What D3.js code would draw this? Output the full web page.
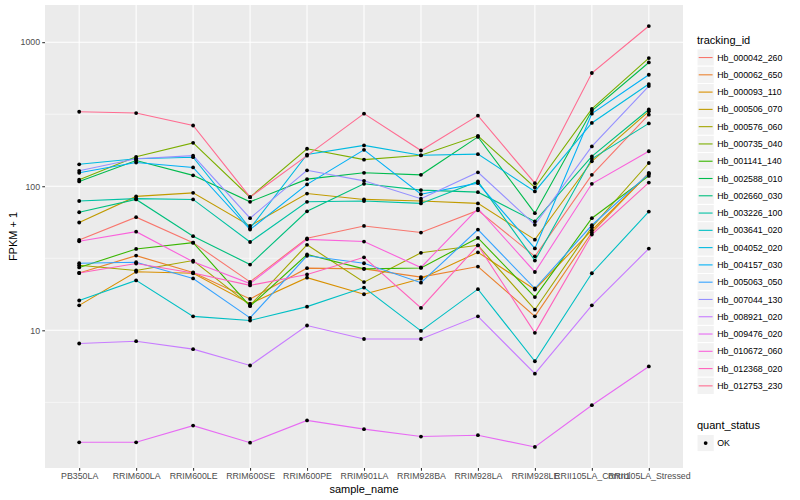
<!DOCTYPE html>
<html><head><meta charset="utf-8">
<script src="https://cdn.jsdelivr.net/npm/d3@7"></script>
<style>body{margin:0;background:#fff}svg{display:block}text{font-family:"Liberation Sans",Arial,Helvetica,sans-serif}</style>
</head><body><svg id="c" width="800" height="500"></svg>
<script>
const categories = ["PB350LA","RRIM600LA","RRIM600LE","RRIM600SE","RRIM600PE","RRIM901LA","RRIM928BA","RRIM928LA","RRIM928LE","RRII105LA_Control","RRII105LA_Stressed"];
const trackingIds = ["Hb_000042_260","Hb_000062_650","Hb_000093_110","Hb_000506_070","Hb_000576_060","Hb_000735_040","Hb_001141_140","Hb_002588_010","Hb_002660_030","Hb_003226_100","Hb_003641_020","Hb_004052_020","Hb_004157_030","Hb_005063_050","Hb_007044_130","Hb_008921_020","Hb_009476_020","Hb_010672_060","Hb_012368_020","Hb_012753_230"];
const seriesColors = ["#F8766D","#EA8331","#D89000","#C09B00","#A3A500","#7CAE00","#39B600","#00BB4E","#00BF7D","#00C1A3","#00BFC4","#00BAE0","#00B0F6","#35A2FF","#9590FF","#C77CFF","#E76BF3","#FA62DB","#FF62BC","#FF6C91"];
const yTicks = [10, 100, 1000];
const quantStatus = ["OK"];

// FPKM + 1 per sample, in category order
const hb000042_260 = [42.4, 61, 40.6, 21.7, 43.5, 53, 47.7, 68, 32.6, 120, 314];
const hb000062_650 = [25.0, 33.0, 25.2, 16.5, 27.0, 26.7, 23.4, 27.7, 12.5, 47.7, 124];
const hb000093_110 = [14.9, 25.5, 24.9, 15.3, 23.2, 17.8, 22.8, 34.8, 19.2, 49.5, 122];
const hb000506_070 = [56, 85, 90, 53, 89, 81, 79, 76, 42.6, 149, 331];
const hb000576_060 = [28.3, 26.0, 30.5, 14.9, 39.2, 21.6, 34.5, 38.9, 13.9, 52, 145];
const hb000735_040 = [111, 160, 200, 84, 182, 153, 164, 224, 98, 344, 776];
const hb001141_140 = [27.3, 36.7, 40.6, 14.7, 33.6, 26.7, 27.1, 43.8, 17.0, 60, 118];
const hb002588_010 = [108, 151, 119, 78, 112, 124, 120, 220, 65, 334, 723];
const hb002660_030 = [66, 81, 45, 28.6, 67, 104, 94, 91, 57, 161, 341];
const hb003226_100 = [79, 82, 81, 41, 78, 79, 76, 108, 30.5, 155, 273];
const hb003641_020 = [16.1, 22.2, 12.5, 11.7, 14.6, 19.8, 9.9, 19.3, 6.1, 24.9, 66.7];
const hb004052_020 = [142, 155, 159, 51, 166, 192, 164, 167, 92, 275, 512];
const hb004157_030 = [124, 146, 135, 50, 103, 179, 88, 105, 37, 319, 594];
const hb005063_050 = [29.2, 29.7, 22.9, 12.2, 32.9, 29.2, 21.4, 50, 19.5, 53.6, 122];
const hb007044_130 = [128, 155, 163, 60, 129, 109, 82, 125, 54, 189, 496];
const hb008921_020 = [8.1, 8.4, 7.4, 5.7, 10.8, 8.7, 8.7, 12.5, 5.0, 14.9, 36.9];
const hb009476_020 = [1.67, 1.67, 2.18, 1.66, 2.37, 2.06, 1.83, 1.87, 1.55, 3.02, 5.61];
const hb010672_060 = [41.5, 48.4, 29.9, 21.1, 42.8, 41.3, 27.3, 70, 25.4, 104, 175];
const hb012368_020 = [25.0, 29.1, 25.0, 20.5, 24.4, 32.1, 14.3, 38.9, 9.6, 46.2, 106];
const hb012753_230 = [329, 322, 264, 84, 163, 319, 177, 309, 105, 611, 1294];

const seriesValues = [hb000042_260, hb000062_650, hb000093_110, hb000506_070, hb000576_060, hb000735_040, hb001141_140, hb002588_010, hb002660_030, hb003226_100, hb003641_020, hb004052_020, hb004157_030, hb005063_050, hb007044_130, hb008921_020, hb009476_020, hb010672_060, hb012368_020, hb012753_230];

const series = trackingIds.map((id, i) => ({id, color: seriesColors[i], values: seriesValues[i].map((v, j) => ({cat: categories[j], v}))}));

const svg = d3.select("#c");
const P = {l: 45, r: 683, t: 5, b: 468};

const x = d3.scalePoint().domain(categories).range([P.l, P.r]).padding(0.6);
const all = seriesValues.flat();
const lmin = Math.log10(d3.min(all)), lmax = Math.log10(d3.max(all));
const ex = (lmax - lmin) * 0.05;
const y = d3.scaleLog().domain([Math.pow(10, lmin - ex), Math.pow(10, lmax + ex)]).range([P.b, P.t]);

// panel
svg.append("rect").attr("x", P.l).attr("y", P.t).attr("width", P.r - P.l).attr("height", P.b - P.t).attr("fill", "#EBEBEB");
const g = svg.append("g");
const minor = [Math.pow(10, 0.5), Math.pow(10, 1.5), Math.pow(10, 2.5)].filter(v => v > y.domain()[0] && v < y.domain()[1]);
g.selectAll(".mn").data(minor).join("line").attr("x1", P.l).attr("x2", P.r).attr("y1", d => y(d)).attr("y2", d => y(d)).attr("stroke", "#fff").attr("stroke-width", 0.55);
g.selectAll(".mj").data(yTicks).join("line").attr("x1", P.l).attr("x2", P.r).attr("y1", d => y(d)).attr("y2", d => y(d)).attr("stroke", "#fff").attr("stroke-width", 1.07);
g.selectAll(".vx").data(categories).join("line").attr("x1", d => x(d)).attr("x2", d => x(d)).attr("y1", P.t).attr("y2", P.b).attr("stroke", "#fff").attr("stroke-width", 1.07);

// lines
const line = d3.line().x(d => x(d.cat)).y(d => y(d.v));
svg.append("g").selectAll("path").data(series).join("path").attr("d", d => line(d.values)).attr("fill", "none").attr("stroke", d => d.color).attr("stroke-width", 1.1);
// points
svg.append("g").selectAll("circle").data(series.flatMap(s => s.values)).join("circle").attr("cx", d => x(d.cat)).attr("cy", d => y(d.v)).attr("r", 1.9).attr("fill", "#000");

// axes
const ya = svg.append("g").attr("transform", `translate(${P.l},0)`).call(d3.axisLeft(y).tickValues(yTicks).tickFormat(d3.format("d")).tickSize(2.75).tickPadding(2.2));
const xa = svg.append("g").attr("transform", `translate(0,${P.b})`).call(d3.axisBottom(x).tickSize(2.75).tickPadding(2.2));
[ya, xa].forEach(a => {
  a.select(".domain").remove();
  a.selectAll(".tick line").attr("stroke", "#333333").attr("stroke-width", 1.07);
  a.selectAll(".tick text").attr("fill", "#4D4D4D").style("font-size", "8.8px").style("font-family", '"Liberation Sans",Arial,sans-serif');
});

svg.append("text").attr("x", (P.l + P.r) / 2).attr("y", 493).attr("text-anchor", "middle").style("font-size", "11px").attr("fill", "#000").text("sample_name");
svg.append("text").attr("transform", `translate(17,${(P.t + P.b) / 2}) rotate(-90)`).attr("text-anchor", "middle").style("font-size", "11px").attr("fill", "#000").text("FPKM + 1");

// legend
const L = svg.append("g");
const kx = 697, ks = 17.28, ky0 = 48.9;
L.append("text").attr("x", kx).attr("y", 44).style("font-size", "11px").text("tracking_id");
const items = L.selectAll(".it").data(series).join("g").attr("transform", (d, i) => `translate(${kx},${ky0 + i * ks})`);
items.append("rect").attr("width", ks).attr("height", ks).attr("fill", "#F2F2F2").attr("stroke", "#fff").attr("stroke-width", 1);
items.append("line").attr("x1", 1.7).attr("x2", ks - 1.7).attr("y1", ks / 2).attr("y2", ks / 2).attr("stroke", d => d.color).attr("stroke-width", 1.1);
items.append("text").attr("x", ks + 3).attr("y", ks / 2).attr("dy", "0.35em").style("font-size", "8.8px").text(d => d.id);

L.append("text").attr("x", kx).attr("y", 429).style("font-size", "11px").text("quant_status");
const q = L.selectAll(".q").data(quantStatus).join("g").attr("transform", (d, i) => `translate(${kx},${434.4 + i * ks})`);
q.append("rect").attr("width", ks).attr("height", ks).attr("fill", "#F2F2F2").attr("stroke", "#fff");
q.append("circle").attr("cx", ks / 2).attr("cy", ks / 2).attr("r", 1.9).attr("fill", "#000");
q.append("text").attr("x", ks + 3).attr("y", ks / 2).attr("dy", "0.35em").style("font-size", "8.8px").text(d => d);
</script></body></html>
